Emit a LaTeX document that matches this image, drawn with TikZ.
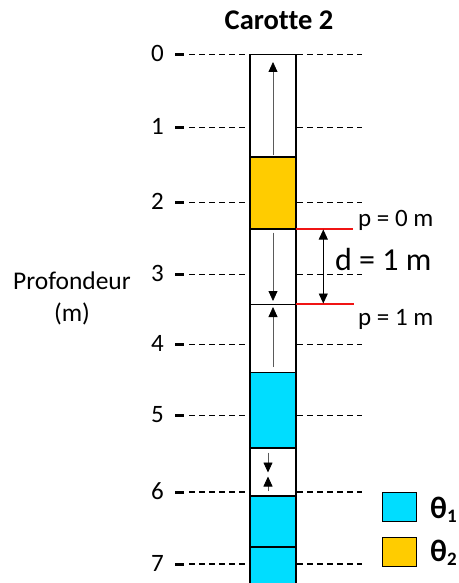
\documentclass[tikz,border=0pt]{standalone}
\usepackage{fontspec}
\setmainfont{Carlito}[Ligatures=NoCommon]
\usetikzlibrary{arrows.meta}
\definecolor{cyanc}{RGB}{0,221,255}
\definecolor{yellowc}{RGB}{255,204,0}
\definecolor{redc}{RGB}{240,20,20}
\definecolor{shaft}{RGB}{90,90,90}
\begin{document}
\begin{tikzpicture}[x=1pt,y=-1pt,
  ticklbl/.style={anchor=base east,inner sep=0pt,font=\fontsize{25}{28}\selectfont},
  lbl/.style={inner sep=0pt,font=\fontsize{25.5}{28}\selectfont},
  guide/.style={line width=1.2pt,dash pattern=on 5.5pt off 4.5pt},
  tickmark/.style={line width=3pt},
  flow/.style={draw=shaft,line width=0.8pt,-{Triangle[length=10pt,width=9pt,color=black]}},
  redline/.style={draw=redc,line width=1.8pt},
  legbox/.style={draw=black,line width=1.4pt,minimum width=34pt,minimum height=29pt,inner sep=0pt}]
\useasboundingbox (0,0) rectangle (458,583);
% depth guides
\foreach \d/\y in {0/54.5,1/127.7,2/202.3,3/274.3,4/344.7,5/415.3,6/492,7/564}{
  \node[ticklbl] (t\d) at (164,\y+7) {\d};
  \draw[tickmark] (175,\y) -- (184,\y);
  \draw[guide] (189,\y) -- (250,\y);
  \draw[guide] (297,\y) -- (362,\y);
}
% core segments
\fill[white] (250,54.5) rectangle (295.7,590);
\fill[yellowc] (250,157) rectangle (295.7,228.7);
\fill[cyanc] (250,372.3) rectangle (295.7,447.7);
\fill[cyanc] (250,495.7) rectangle (295.7,590);
\foreach \y in {157,228.7,372.3,447.7,495.7,547}{
  \draw[line width=1.6pt] (250,\y) -- (295.7,\y);
}
\draw[line width=0.8pt] (250,304.3) -- (295.7,304.3);
\draw[line width=1.8pt] (250,590) -- (250,54.5) -- (295.7,54.5) -- (295.7,590);
% arrows inside core
\coordinate (a1s) at (273,155); \coordinate (a1e) at (273,62);
\coordinate (a3s) at (273,232.7); \coordinate (a3e) at (273,301);
\coordinate (a4s) at (273,367); \coordinate (a4e) at (273,307);
\coordinate (a6s) at (268,452.5); \coordinate (a6e) at (268,472.5);
\coordinate (a7s) at (268,491); \coordinate (a7e) at (268,476.5);
\draw[flow] (a1s) -- (a1e);
\draw[flow] (a3s) -- (a3e);
\draw[flow] (a4s) -- (a4e);
\draw[flow] (a6s) -- (a6e);
\draw[flow] (a7s) -- (a7e);
% distance marker
\coordinate (r0a) at (296,228.7); \coordinate (r0b) at (352.7,228.7);
\coordinate (r1a) at (296,304.3); \coordinate (r1b) at (354,304.3);
\draw[redline] (r0a) -- (r0b);
\draw[redline] (r1a) -- (r1b);
\coordinate (da) at (323.3,229.5); \coordinate (db) at (323.3,303.5);
\draw[line width=0.9pt,{Triangle[length=10pt,width=9pt]}-{Triangle[length=10pt,width=9pt]}] (da) -- (db);
\node[lbl,anchor=base west,font=\fontsize{25}{28}\selectfont] (p0) at (358,226) {p = 0 m};
\node[lbl,anchor=base west,font=\fontsize{25}{28}\selectfont] (p1) at (358,325) {p = 1 m};
\node[inner sep=0pt,anchor=base west,font=\fontsize{32}{36}\selectfont] (dl) at (335,270.7) {d = 1 m};
% title and axis label
\node[inner sep=0pt,anchor=base,font=\bfseries\fontsize{28.5}{32}\selectfont] (title) at (279,30) {Carotte 2};
\node[lbl,anchor=base] (prof) at (72,289) {Profondeur};
\node[lbl,anchor=base] (unit) at (72,321.7) {(m)};
% legend
\node[legbox,fill=cyanc] (l1) at (399.2,507) {};
\node[legbox,fill=yellowc] (l2) at (399.2,551.7) {};
\node[inner sep=0pt,anchor=base west,font=\bfseries\fontsize{31}{34}\selectfont] (th1) at (430,518.3) {θ\raisebox{-4pt}{\fontsize{19}{20}\selectfont 1}};
\node[inner sep=0pt,anchor=base west,font=\bfseries\fontsize{31}{34}\selectfont] (th2) at (430,561.7) {θ\raisebox{-4pt}{\fontsize{19}{20}\selectfont 2}};
\end{tikzpicture}
\end{document}
